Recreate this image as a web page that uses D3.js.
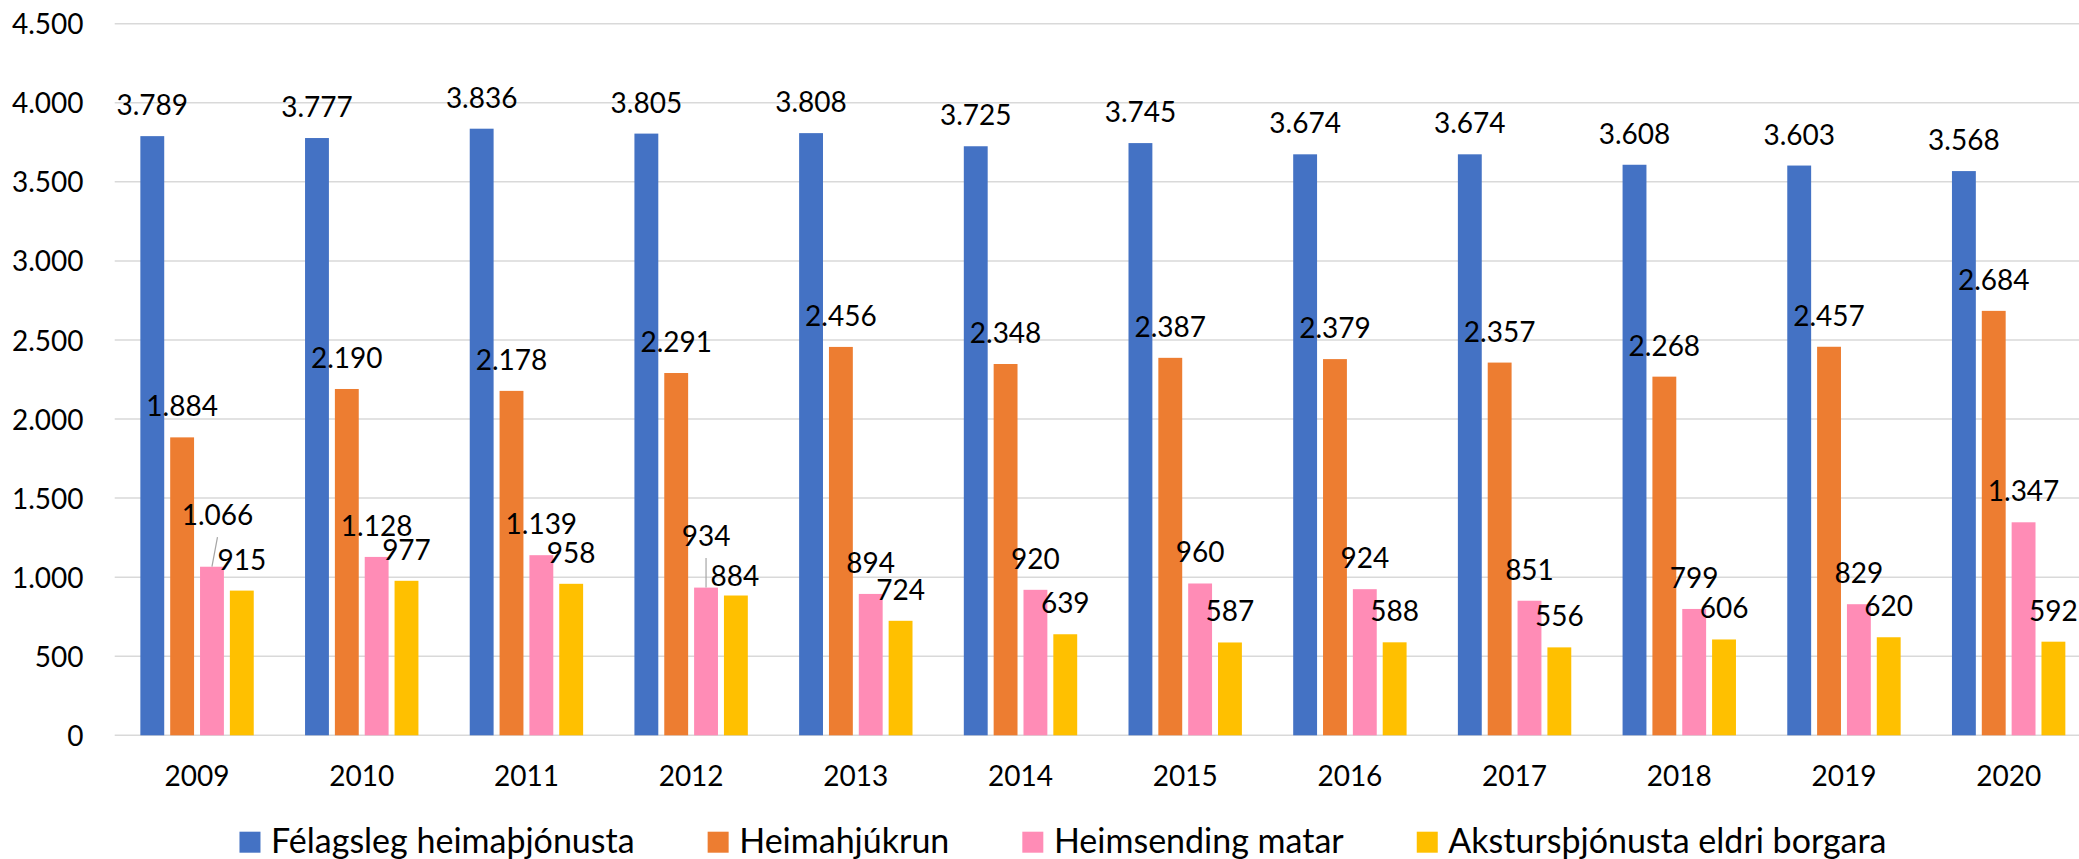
<!DOCTYPE html>
<html>
<head>
<meta charset="utf-8">
<script src="https://cdn.jsdelivr.net/npm/d3@7"></script>
<style>
  html, body { margin: 0; padding: 0; background: #ffffff; }
  svg { display: block; }
  text { font-family: Lato, "Open Sans", sans-serif; fill: #000; }
</style>
</head>
<body>
<svg id="chart" width="2079" height="859"></svg>
<script>
// ---- data ----
const years = ["2009","2010","2011","2012","2013","2014","2015","2016","2017","2018","2019","2020"];
const seriesNames = ["Félagsleg heimaþjónusta", "Heimahjúkrun", "Heimsending matar", "Akstursþjónusta eldri borgara"];
const felagslegHeimathjonusta = [3789, 3777, 3836, 3805, 3808, 3725, 3745, 3674, 3674, 3608, 3603, 3568];
const heimahjukrun            = [1884, 2190, 2178, 2291, 2456, 2348, 2387, 2379, 2357, 2268, 2457, 2684];
const heimsendingMatar        = [1066, 1128, 1139,  934,  894,  920,  960,  924,  851,  799,  829, 1347];
const aksturshjonusta         = [ 915,  977,  958,  884,  724,  639,  587,  588,  556,  606,  620,  592];
const yTickValues = [0, 500, 1000, 1500, 2000, 2500, 3000, 3500, 4000, 4500];

// ---- styles / layout ----
const colors = ["#4472C4", "#ED7D31", "#FF8CB6", "#FFC000"];
const seriesValues = [felagslegHeimathjonusta, heimahjukrun, heimsendingMatar, aksturshjonusta];
// manual label adjustments (as dragged in the original): [yearIndex, seriesIndex, dx, dy, leader]
const labelNudges = [[0, 2, 5.5, -21, true], [3, 2, 0, -21, true], [3, 3, -1, 11, false]];

const W = 2079, H = 859;
const plot = { left: 114.7, right: 2091, top: 23.7, bottom: 735.3 };
const fontSize = 28;

const svg = d3.select("#chart");
svg.append("rect").attr("width", W).attr("height", H).attr("fill", "#fff");

const fmt = d3.formatLocale({ decimal: ",", thousands: ".", grouping: [3], currency: ["", ""] }).format(",d");

const x0 = d3.scaleBand().domain(years).range([plot.left, plot.right])
  .paddingInner(0.3115).paddingOuter(0.3115 / 2);
const x1 = d3.scaleBand().domain(d3.range(4)).range([0, x0.bandwidth()])
  .paddingInner(0.2).paddingOuter(0);
const y = d3.scaleLinear().domain([0, 4500]).range([plot.bottom, plot.top]);

// gridlines
svg.append("g").selectAll("line").data(yTickValues).join("line")
  .attr("x1", plot.left).attr("x2", W)
  .attr("y1", d => y(d)).attr("y2", d => y(d))
  .attr("stroke", "#D9D9D9").attr("stroke-width", 1.5);

// y axis labels
const yAxis = d3.axisLeft(y).tickValues(yTickValues).tickFormat(fmt).tickSize(0).tickPadding(0);
const gy = svg.append("g").attr("transform", `translate(83.5,0)`).call(yAxis);
gy.select(".domain").remove();
gy.selectAll("text").attr("font-size", fontSize).attr("font-family", "Lato, sans-serif")
  .attr("dy", "0.36em").attr("fill", "#000");

// x axis labels
const xAxis = d3.axisBottom(x0).tickSize(0).tickPadding(0);
const gx = svg.append("g").attr("transform", `translate(0,${plot.bottom})`).call(xAxis);
gx.select(".domain").remove();
gx.selectAll("text").attr("font-size", fontSize).attr("font-family", "Lato, sans-serif")
  .attr("dy", null).attr("y", 51).attr("fill", "#000");

// bars
const flat = [];
years.forEach((yr, i) => {
  seriesValues.forEach((arr, s) => flat.push({ yr, i, s, v: arr[i] }));
});
svg.append("g").selectAll("rect").data(flat).join("rect")
  .attr("x", d => x0(d.yr) + x1(d.s))
  .attr("width", x1.bandwidth())
  .attr("y", d => y(d.v))
  .attr("height", d => y(0) - y(d.v))
  .attr("fill", d => colors[d.s]);

// labels
const nudgeOf = d => labelNudges.find(n => n[0] === d.i && n[1] === d.s);
const lg = svg.append("g");
flat.forEach(d => {
  const cx = x0(d.yr) + x1(d.s) + x1.bandwidth() / 2;
  const top = y(d.v);
  const n = nudgeOf(d);
  const lx = cx + (n ? n[2] : 0);
  const ly = top - 21 + (n ? n[3] : 0);
  if (n && n[4]) {
    lg.append("line").attr("x1", lx).attr("y1", ly + 12.5).attr("x2", cx).attr("y2", top)
      .attr("stroke", "#A6A6A6").attr("stroke-width", 1.2);
  }
  lg.append("text").attr("x", lx).attr("y", ly).attr("text-anchor", "middle")
    .attr("font-size", fontSize).text(fmt(d.v));
});

// legend
const legend = svg.append("g");
let cursor = 0;
seriesNames.forEach((name, s) => {
  const g = legend.append("g").attr("transform", `translate(${cursor},0)`);
  g.append("rect").attr("x", 0).attr("y", 831.7).attr("width", 21).attr("height", 21).attr("fill", colors[s]);
  const t = g.append("text").attr("x", 31.6).attr("y", 852.5).attr("font-size", 34).text(name);
  const w = t.node().getComputedTextLength();
  cursor += 31.6 + w + 73;
});
const total = cursor - 73;
legend.attr("transform", `translate(${1063 - total / 2},0)`);
</script>
</body>
</html>
